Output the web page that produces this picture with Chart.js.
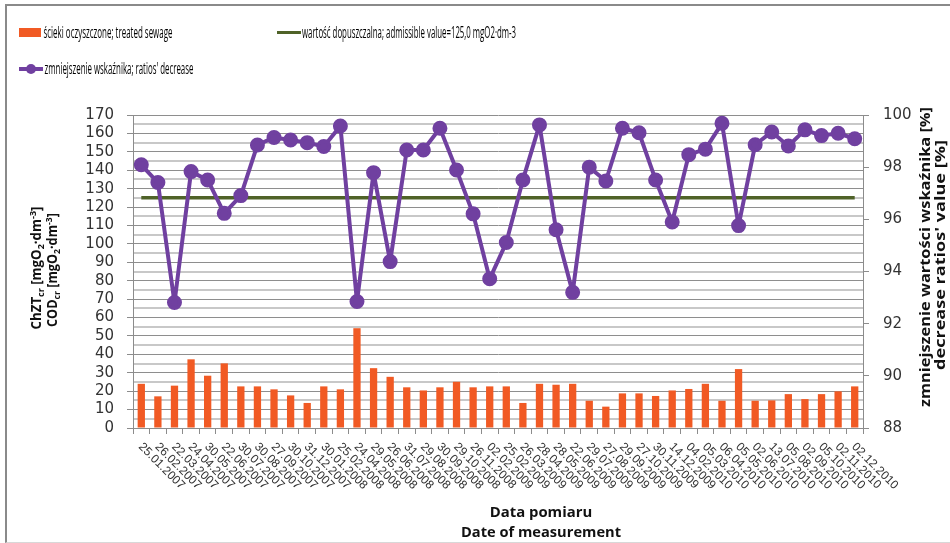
<!DOCTYPE html>
<html><head><meta charset="utf-8">
<script src="https://cdn.jsdelivr.net/npm/chart.js@4.4.0/dist/chart.umd.min.js"></script>
<style>
body{margin:0;background:#fff;}
#wrap{position:relative;width:950px;height:543px;overflow:hidden;background:#fff;}
#frame{position:absolute;left:5px;top:4px;width:960px;height:536px;border-left:2px solid #8a8a8a;border-top:2px solid #8a8a8a;border-bottom:1px solid #d8d8d8;}
canvas{position:absolute;left:0;top:0;}
.t{position:absolute;left:0;top:0;white-space:nowrap;color:#1a1a1a;line-height:1;}
.leg{font-family:'Liberation Sans Narrow','Open Sans',sans-serif;font-size:15.5px;color:#000;}
.ttl{font-family:'Open Sans',sans-serif;font-weight:bold;color:#111;}
sub,sup{font-size:68%;line-height:0;}
sub{vertical-align:-0.3em;} sup{vertical-align:0.55em;}
.mk{position:absolute;}
</style></head>
<body>
<div id="wrap">
<div id="frame"></div>
<canvas id="c" width="950" height="543"></canvas>
<div class="mk" style="left:19px;top:28px;width:22px;height:9px;background:#f15a24;"></div>
<div class="mk" style="left:277px;top:31px;width:24px;height:3px;background:#4f6228;"></div>
<div class="mk" style="left:19px;top:67px;width:24px;height:4px;background:#7040a0;"></div>
<div class="mk" style="left:26px;top:64px;width:10px;height:10px;border-radius:50%;background:#7040a0;"></div>
<div class="t leg" id="l1">ścieki oczyszczone; treated sewage</div>
<div class="t leg" id="l2">wartość dopuszczalna; admissible value=125,0 mgO2·dm-3</div>
<div class="t leg" id="l3">zmniejszenie wskaźnika; ratios' decrease</div>
<div class="t ttl" id="ya1" style="font-size:14px;">ChZT<sub>cr</sub> [mgO<sub>2</sub>·dm<sup>-3</sup>]</div>
<div class="t ttl" id="ya2" style="font-size:14px;">COD<sub>cr</sub> [mgO<sub>2</sub>·dm<sup>-3</sup>]</div>
<div class="t ttl" id="yb1" style="font-size:15px;">zmniejszenie wartości wskaźnika [%]</div>
<div class="t ttl" id="yb2" style="font-size:15px;">decrease ratios' value [%]</div>
<div class="t ttl" id="x1" style="font-size:15px;">Data pomiaru</div>
<div class="t ttl" id="x2" style="font-size:15px;">Date of measurement</div>
</div>
<script>
const categories = ['25.01.2007','26.02.2007','22.03.2007','24.04.2007','30.05.2007','22.06.2007','30.07.2007','30.08.2007','27.09.2007','30.10.2007','31.12.2007',
'30.01.2008','25.02.2008','24.04.2008','29.05.2008','26.06.2008','31.07.2008','29.08.2008','30.09.2008','29.10.2008','26.11.2008',
'02.02.2009','25.02.2009','26.03.2009','28.04.2009','28.05.2009','22.06.2009','29.07.2009','27.08.2009','29.09.2009','27.10.2009','30.11.2009','14.12.2009',
'04.02.2010','05.03.2010','06.04.2010','05.05.2010','02.06.2010','13.07.2010','05.08.2010','02.09.2010','05.10.2010','02.11.2010','02.12.2010'];

const sewage = [24.0,17.2,23.0,37.3,28.4,35.1,22.6,22.6,21.0,17.7,13.6,
22.6,21.0,54.2,32.5,27.8,22.1,20.4,22.1,25.1,22.1,
22.6,22.6,13.6,24.0,23.5,24.0,14.8,11.6,18.8,18.8,17.4,20.4,
21.2,24.0,14.8,32.0,14.8,15.0,18.4,15.7,18.4,19.9,22.6];

const admissible = [125,125,125,125,125,125,125,125,125,125,125,
125,125,125,125,125,125,125,125,125,125,
125,125,125,125,125,125,125,125,125,125,125,125,
125,125,125,125,125,125,125,125,125,125,125];

const ratios = [98.09,97.41,92.81,97.83,97.51,96.23,96.91,98.85,99.14,99.04,98.94,
98.79,99.58,92.85,97.79,94.38,98.66,98.66,99.49,97.89,96.21,
93.72,95.11,97.51,99.62,95.60,93.20,98.00,97.47,99.49,99.32,97.51,95.90,
98.48,98.69,99.68,95.76,98.86,99.35,98.81,99.43,99.21,99.30,99.09];

const leftTicks = {min:0, max:170, step:10, minor:5};
const rightTicks = {min:88, max:100, step:2};

const xLabelPlugin = {
  id:'xlabels',
  afterDraw(chart){
    const ctx = chart.ctx, xs = chart.scales.x;
    const y0 = chart.chartArea.bottom + 17;
    ctx.save();
    ctx.font = '12px "Liberation Sans", Arial, sans-serif';
    ctx.fillStyle = '#333';
    ctx.textAlign = 'left';
    ctx.textBaseline = 'middle';
    categories.forEach((lab,i)=>{
      const x = xs.getPixelForValue(i);
      ctx.save();
      ctx.translate(x-1, y0);
      ctx.rotate(Math.PI/4);
      ctx.fillText(lab,0,0);
      ctx.restore();
    });
    ctx.restore();
  }
};

const isMajor = (c)=> c.tick && Math.round(c.tick.value) % leftTicks.step === 0;

const chart = new Chart(document.getElementById('c'), {
  type:'bar',
  data:{
    labels: categories,
    datasets:[
      {type:'bar', label:'ścieki oczyszczone; treated sewage', data:sewage, yAxisID:'y',
       backgroundColor:'#f15a24', barPercentage:0.44, categoryPercentage:1.0, order:3},
      {type:'line', label:'wartość dopuszczalna; admissible value=125,0 mgO2·dm-3', data:admissible, yAxisID:'y',
       borderColor:'#4f6228', borderWidth:3.5, pointRadius:0, pointHoverRadius:0, tension:0, order:2},
      {type:'line', label:"zmniejszenie wskaźnika; ratios' decrease", data:ratios, yAxisID:'y1',
       borderColor:'#7040a0', backgroundColor:'#7040a0', borderWidth:4, pointRadius:5.5,
       borderJoinStyle:'round', borderCapStyle:'round',
       pointBackgroundColor:'#7040a0', pointBorderColor:'#7040a0', tension:0, order:1}
    ]
  },
  options:{
    responsive:false, animation:false,
    layout:{padding:{top:115,left:0,right:0,bottom:0}},
    plugins:{legend:{display:false}, tooltip:{enabled:false}},
    scales:{
      x:{
        offset:true,
        grid:{display:true, offset:true, drawOnChartArea:false, drawTicks:true, tickLength:6, color:'#8c8c8c'},
        border:{color:'#8c8c8c', width:1},
        ticks:{display:false, autoSkip:false},
        afterFit(s){ s.height = 115; }
      },
      y:{
        position:'left', min:leftTicks.min, max:leftTicks.max,
        afterBuildTicks(s){
          const t = [];
          for (let v = leftTicks.min; v <= leftTicks.max; v += leftTicks.minor) t.push({value:v});
          s.ticks = t;
        },
        ticks:{stepSize:leftTicks.minor, autoSkip:false, padding:13, color:'#333',
          font:{family:'DejaVu Sans', size:15},
          callback:(v)=> (Math.round(v) % leftTicks.step === 0 ? String(v) : '')},
        grid:{
          color:(c)=> (isMajor(c) ? '#8e8e8e' : '#c8c8c8'),
          lineWidth:(c)=> (isMajor(c) ? 1 : 2),
          tickColor:(c)=> (isMajor(c) ? '#8c8c8c' : 'rgba(0,0,0,0)'),
          tickLength:6
        },
        border:{color:'#8c8c8c', width:1},
        afterFit(s){ s.width = 133; }
      },
      y1:{
        position:'right', min:rightTicks.min, max:rightTicks.max,
        ticks:{stepSize:rightTicks.step, autoSkip:false, padding:14, color:'#333', font:{family:'DejaVu Sans', size:15}},
        grid:{drawOnChartArea:false, tickLength:6, color:'#8c8c8c'},
        border:{color:'#8c8c8c', width:1},
        afterFit(s){ s.width = 87; }
      }
    }
  },
  plugins:[xLabelPlugin]
});

function place(id, cx, cy, len, rot){
  const el = document.getElementById(id);
  const w = el.offsetWidth;
  const s = len ? len / w : 1;
  el.style.left = cx + 'px';
  el.style.top = cy + 'px';
  el.style.transform = `translate(-50%,-50%) rotate(${rot}deg) scaleX(${s})`;
}
function placeLeft(id, x0, cy, len){ place(id, x0 + len/2, cy, len, 0); }

placeLeft('l1', 43, 33, 129);
placeLeft('l2', 302, 33, 214);
placeLeft('l3', 44, 69, 149);
place('ya1', 36, 268, 123, -90);
place('ya2', 52, 270, 114, -90);
place('yb1', 924, 257, 300, -90);
place('yb2', 939, 255, 230, -90);
place('x1', 541, 511, 102, 0);
place('x2', 541, 531, 160, 0);
</script>
</body></html>
